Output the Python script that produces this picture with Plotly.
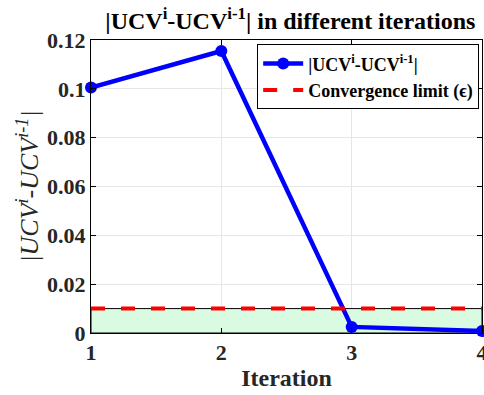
import plotly.graph_objects as go

iterations = [1, 2, 3, 4]
ucv_diff = [0.1005, 0.1155, 0.0025, 0.0008]
eps_limit = 0.01
x_ticks = [1, 2, 3, 4]
y_ticks = [0, 0.02, 0.04, 0.06, 0.08, 0.1, 0.12]
y_tick_labels = ["0", "0.02", "0.04", "0.06", "0.08", "0.1", "0.12"]

FONT = "Liberation Serif"

fig = go.Figure()
fig.add_trace(go.Scatter(
    x=iterations, y=ucv_diff, mode="lines+markers",
    line=dict(color="#0000ff", width=4.5),
    marker=dict(color="#0000ff", size=12),
    name="<b>|UCV<sup>i</sup>-UCV<sup>i-1</sup>|</b>",
    cliponaxis=False,
))
fig.add_trace(go.Scatter(
    x=[iterations[0], iterations[-1]], y=[eps_limit, eps_limit], mode="lines",
    line=dict(color="#ff0000", width=4, dash="14px,16px"),
    name="<b>Convergence limit (ϵ)</b>",
))
fig.add_shape(type="rect", xref="x", yref="y", x0=iterations[0], x1=iterations[-1],
              y0=0, y1=eps_limit, fillcolor="#d9fbe1", line=dict(color="black", width=1),
              layer="between")

axis_common = dict(showline=True, linecolor="black", linewidth=1, mirror="ticks",
                   ticks="inside", ticklen=5, tickcolor="black", automargin=False,
                   ticklabeloverflow="allow",
                   showgrid=True, gridcolor="#e6e6e6", gridwidth=1, zeroline=False,
                   tickfont=dict(family=FONT, size=22, color="#262626"))

fig.update_xaxes(range=[1, 4], tickvals=x_ticks, ticktext=["<b>%d</b>" % t for t in x_ticks],
                 title=dict(text="<b>Iteration</b>", font=dict(family=FONT, size=24, color="#262626"), standoff=4),
                 **axis_common)
fig.update_yaxes(range=[0, 0.12], tickvals=y_ticks, ticktext=["<b>%s</b>" % t for t in y_tick_labels],
                 title=dict(text="<i>|UCV<sup>i</sup>-UCV<sup>i-1</sup>|</i>", font=dict(family=FONT, size=26, color="#262626"), standoff=0),
                 **axis_common)

fig.update_layout(
    width=484, height=395,
    margin=dict(l=91, r=2, t=40, b=62, autoexpand=False),
    plot_bgcolor="white", paper_bgcolor="white",
    title=dict(text="<b>|UCV<sup>i</sup>-UCV<sup>i-1</sup>| in different iterations</b>",
               font=dict(family=FONT, size=24, color="black"),
               x=0.6, xanchor="center", y=1 - 21 / 395, yanchor="middle"),
    legend=dict(x=0.425, y=0.985, xanchor="left", yanchor="top",
                bordercolor="black", borderwidth=1, bgcolor="white",
                font=dict(family=FONT, size=18, color="black"),
                tracegroupgap=0, itemwidth=40),
    showlegend=True,
)

fig.write_html("out.html", config={"displayModeBar": False},
               post_script="document.body.style.margin='0';document.body.style.overflow='hidden';")
